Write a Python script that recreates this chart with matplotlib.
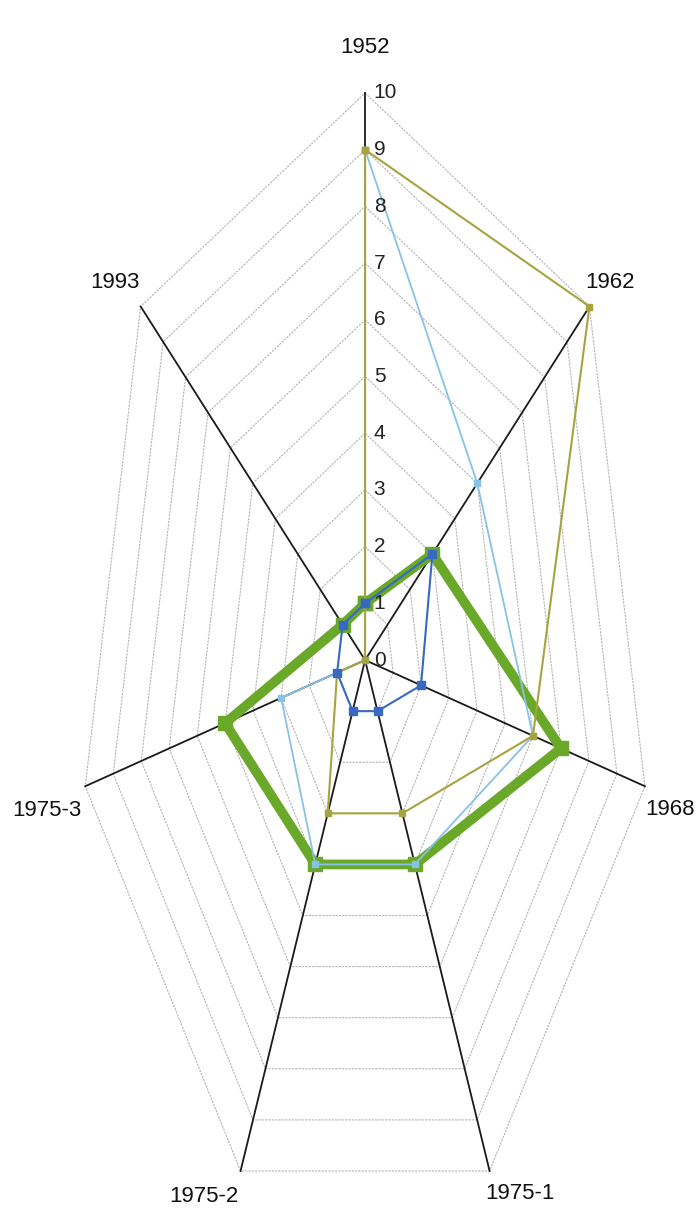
import numpy as np
import matplotlib.pyplot as plt

# 雷达图数据
categories = ['1952', '1962', '1968', '1975-1', '1975-2', '1975-3', '1993']
green = [1, 3, 7, 4, 4, 5, 1]
olive = [9, 10, 6, 3, 3, 1, 0]
light_blue = [9, 5, 6, 4, 4, 3, 0]
blue = [1, 3, 2, 1, 1, 1, 1]
levels = list(range(0, 11))

n = len(categories)
theta = np.deg2rad(90 - np.arange(n) * 360.0 / n)


def to_xy(vals):
    v = np.asarray(vals, dtype=float)
    v = np.append(v, v[0])
    t = np.append(theta, theta[0])
    return v * np.cos(t), v * np.sin(t)


font = ['Liberation Sans Narrow', 'Liberation Sans', 'DejaVu Sans']

fig = plt.figure(figsize=(6.96, 12.26), dpi=100)
ax = fig.add_axes([0, 0, 1, 1])
ax.set_xlim(-12.72, 11.53)
ax.set_ylim(-9.98, 11.64)
ax.axis('off')

# 网格
for lv in levels[1:]:
    gx, gy = to_xy([lv] * n)
    ax.plot(gx, gy, color='#b4b4b4', lw=0.8, ls=(0, (2, 1)), zorder=1)

# 轴线
rmax = levels[-1]
for t in theta:
    ax.plot([0, rmax * np.cos(t)], [0, rmax * np.sin(t)], color='#1a1a1a', lw=1.3, zorder=2)

# 刻度
for lv in levels:
    ax.text(0.3, lv, str(lv), ha='left', va='center', fontsize=15,
            family=font, color='#222222', zorder=6)

# 分类标签
offsets = [(0, 45), (21, 24), (25, -23), (30, -23), (-37, -26), (-38, -24), (-26, 24)]
for lab, t, (dx, dy) in zip(categories, theta, offsets):
    ax.annotate(lab, xy=(rmax * np.cos(t), rmax * np.sin(t)),
                xytext=(dx * 0.72, dy * 0.72), textcoords='offset points',
                ha='center', va='center', fontsize=16, family=font, color='#111111')

x, y = to_xy(green)
ax.plot(x, y, color='#6aa82a', lw=7, marker='s', ms=10, zorder=3, solid_joinstyle='miter')
x, y = to_xy(light_blue)
ax.plot(x, y, color='#86c3e6', lw=1.3, marker='s', ms=5, zorder=4)
x, y = to_xy(olive)
ax.plot(x, y, color='#a6a440', lw=1.5, marker='s', ms=4, zorder=4)
x, y = to_xy(blue)
ax.plot(x, y, color='#3868c0', lw=1.5, marker='s', ms=6, zorder=5)

fig.savefig('out.png', dpi=100)
